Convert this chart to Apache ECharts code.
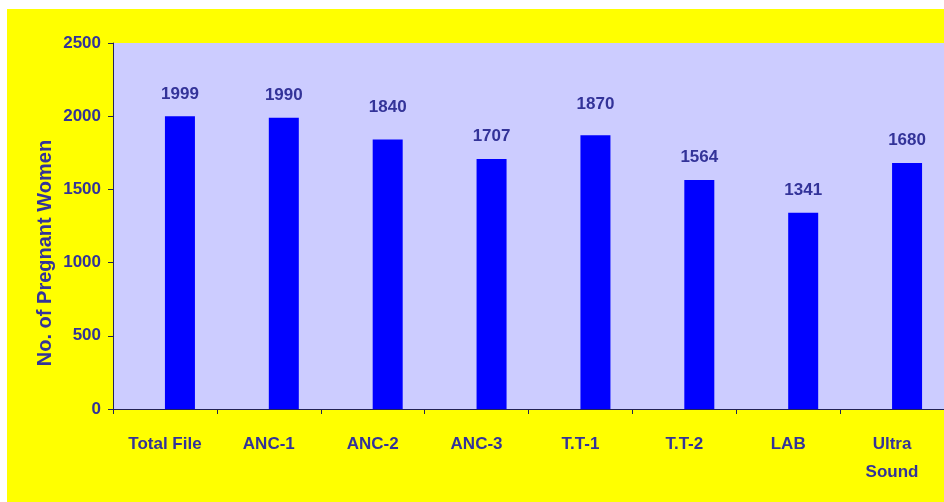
<!DOCTYPE html>
<html>
<head>
<meta charset="utf-8">
<script src="https://cdn.jsdelivr.net/npm/echarts@6/dist/echarts.min.js"></script>
<style>
html,body{margin:0;padding:0;background:#ffffff;width:944px;height:502px;overflow:hidden;}
#chart{position:absolute;left:7px;top:9px;width:937px;height:493px;background:#FFFF00;}
</style>
</head>
<body>
<div id="chart"></div>
<script>
const categories = ['Total File', 'ANC-1', 'ANC-2', 'ANC-3', 'T.T-1', 'T.T-2', 'LAB', 'Ultra\nSound'];
const values = [1999, 1990, 1840, 1707, 1870, 1564, 1341, 1680];
const emptySeries = [null, null, null, null, null, null, null, null];
const yTicks = { min: 0, max: 2500, interval: 500 };
const yTitle = 'No. of Pregnant Women';

const textColor = '#333399';
const axisColor = '#222255';
const font = 'Liberation Sans, Arial, sans-serif';

// labels of ANC-2 and T.T-1 sit a little higher in the reference
const raisedLabels = { 'ANC-2': 10, 'T.T-1': 8 };
const barData = values.map((v, i) => {
  const lift = raisedLabels[categories[i]] || 0;
  return lift ? { value: v, label: { offset: [0, -lift] } } : v;
});

const chart = echarts.init(document.getElementById('chart'), null, { renderer: 'canvas' });
chart.setOption({
  animation: false,
  grid: {
    left: 106, top: 34, width: 832, height: 366,
    show: true, backgroundColor: '#CCCCFF', borderWidth: 0, containLabel: false
  },
  graphic: [{
    type: 'text',
    x: 38, y: 244,
    rotation: Math.PI / 2,
    style: {
      text: yTitle, fill: textColor,
      font: 'bold 20px Liberation Sans, Arial, sans-serif',
      textAlign: 'center', textVerticalAlign: 'middle'
    }
  }],
  xAxis: {
    type: 'category',
    data: categories,
    boundaryGap: true,
    axisLine: { show: true, lineStyle: { color: axisColor, width: 1 } },
    axisTick: { show: true, interval: 0, length: 5, lineStyle: { color: axisColor } },
    axisLabel: {
      interval: 0, margin: 21, color: textColor, fontFamily: font,
      fontWeight: 'bold', fontSize: 17, lineHeight: 28
    },
    splitLine: { show: false }
  },
  yAxis: {
    type: 'value',
    min: yTicks.min, max: yTicks.max, interval: yTicks.interval,
    axisLine: { show: true, lineStyle: { color: axisColor, width: 1 } },
    axisTick: { show: true, length: 5, lineStyle: { color: axisColor } },
    axisLabel: {
      margin: 12, color: textColor, fontFamily: font, fontWeight: 'bold', fontSize: 17,
      formatter: v => String(v)
    },
    splitLine: { show: false }
  },
  series: [
    {
      type: 'bar', data: emptySeries, barWidth: 30, barGap: '0%',
      itemStyle: { color: 'transparent' }
    },
    {
      type: 'bar', data: barData, barWidth: 30, barGap: '0%',
      itemStyle: { color: '#0000FF' },
      label: {
        show: true, position: 'top', distance: 14,
        color: textColor, fontFamily: font, fontWeight: 'bold', fontSize: 17
      }
    }
  ]
});
</script>
</body>
</html>
